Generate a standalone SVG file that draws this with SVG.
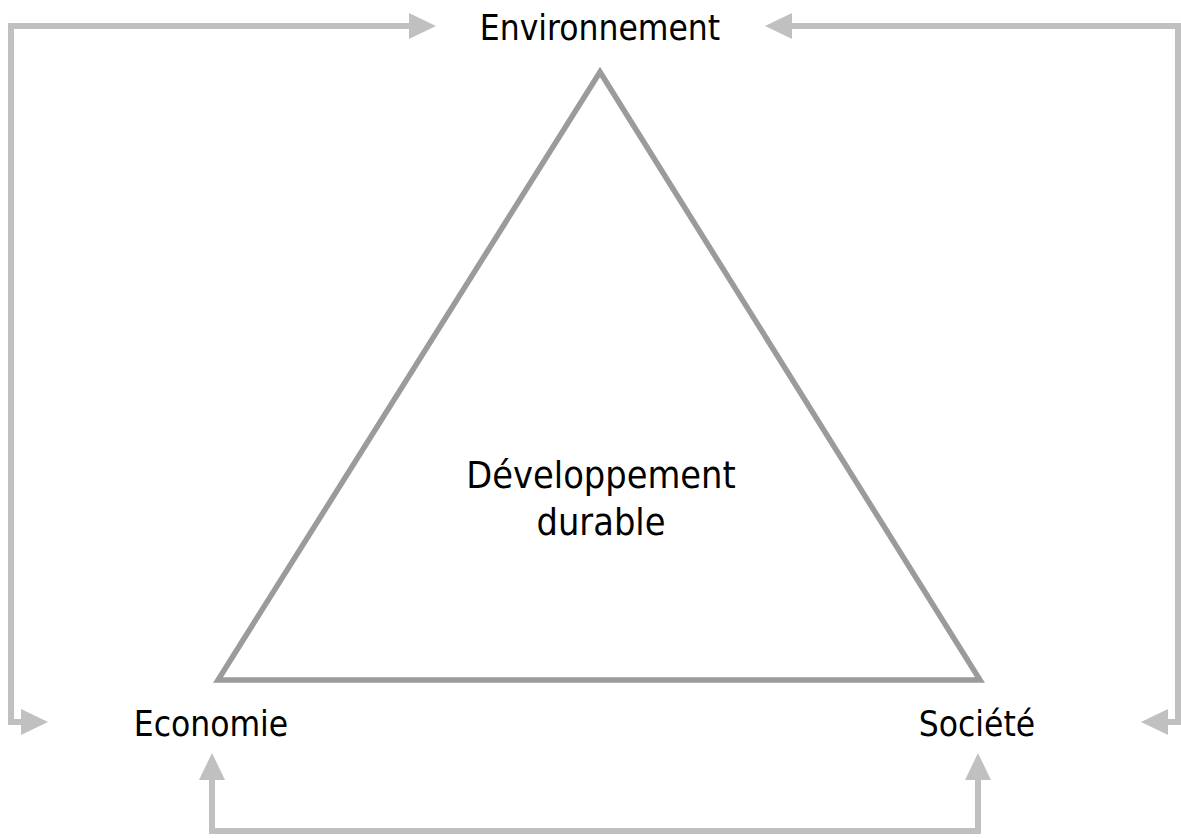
<svg xmlns="http://www.w3.org/2000/svg" width="1181" height="838" viewBox="0 0 1181 838">
<defs>
<style>
.lbl{font-family:"DejaVu Sans Condensed","DejaVu Sans",sans-serif;font-stretch:condensed;font-size:35px;fill:#000;text-anchor:middle}
.big{font-size:37.5px}
.con{fill:none;stroke:#c0c0c0;stroke-width:6;stroke-linejoin:miter}
.tri{fill:none;stroke:#9b9b9b;stroke-width:5.5;stroke-linejoin:miter}
</style>
<marker id="ah" markerUnits="userSpaceOnUse" markerWidth="27" markerHeight="27" refX="0" refY="13" orient="auto-start-reverse" viewBox="0 0 27 26">
<path d="M0,0 L27,13 L0,26 z" fill="#c0c0c0"/>
</marker>
</defs>
<g id="connectors">
<path class="con" d="M21,722 H11 V26 H409" marker-start="url(#ah)" marker-end="url(#ah)"/>
<path class="con" d="M1168,722 H1178 V26 H792" marker-start="url(#ah)" marker-end="url(#ah)"/>
<path class="con" d="M212,780 V831 H978 V780" marker-start="url(#ah)" marker-end="url(#ah)"/>
</g>
<g id="triangle">
<polygon class="tri" points="600,72 218,680 980,680"/>
<text class="lbl big" x="601" y="488">Développement</text>
<text class="lbl big" x="601" y="535">durable</text>
</g>
<g id="environnement"><text class="lbl" x="600" y="40">Environnement</text></g>
<g id="economie"><text class="lbl" x="211" y="736">Economie</text></g>
<g id="societe"><text class="lbl" x="977" y="736">Société</text></g>
</svg>
